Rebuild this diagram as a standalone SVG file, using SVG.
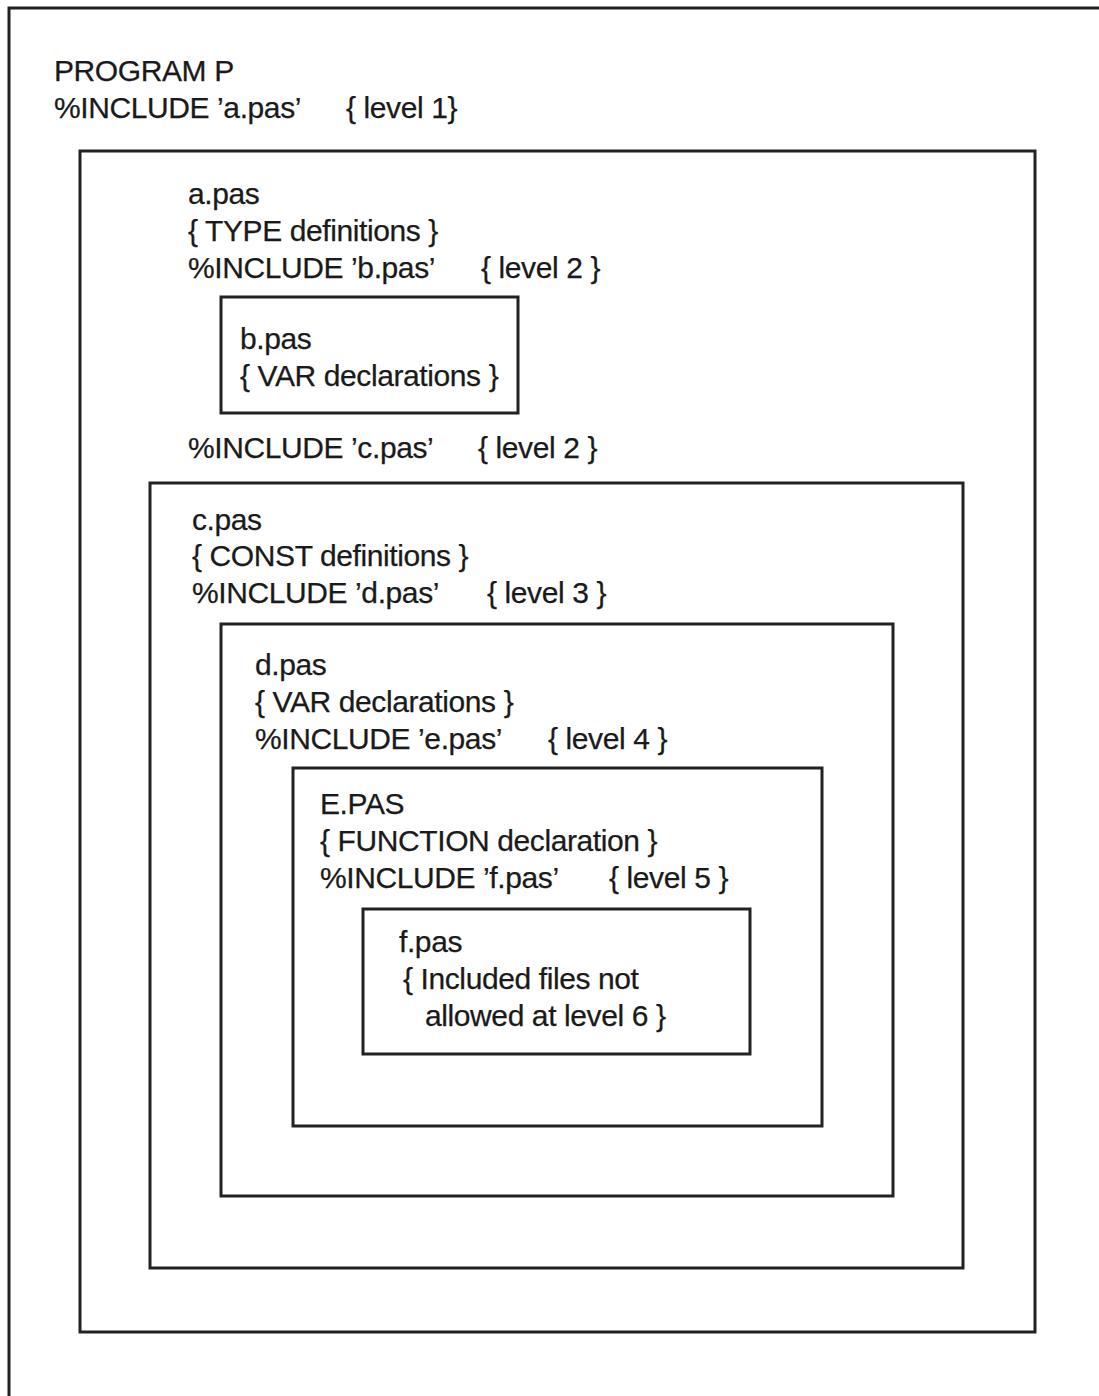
<svg xmlns="http://www.w3.org/2000/svg" width="1099" height="1396" viewBox="0 0 1099 1396">
  <style>
    .box { fill: none; stroke: #222; stroke-width: 3; }
    .t { font-family: "Liberation Sans", Arial, Helvetica, sans-serif; font-size: 30px; letter-spacing: -0.4px; fill: #1a1a1a; stroke: #1a1a1a; stroke-width: 0.25px; }
  </style>
  <rect x="0" y="0" width="1099" height="1396" fill="#fff"/>
  <g id="program-p">
    <path class="box" d="M 9 1400 V 8 H 1105"/>
    <text class="t" x="54" y="81">PROGRAM P</text>
    <text class="t" x="54" y="118">%INCLUDE ’a.pas’</text>
    <text class="t" x="346" y="118">{ level 1}</text>
  </g>
  <g id="a-pas">
    <rect class="box" x="80" y="151" width="955" height="1181"/>
    <text class="t" x="188" y="204">a.pas</text>
    <text class="t" x="188" y="241">{ TYPE definitions }</text>
    <text class="t" x="188" y="278">%INCLUDE ’b.pas’</text>
    <text class="t" x="481" y="278">{ level 2 }</text>
    <text class="t" x="188" y="458">%INCLUDE ’c.pas’</text>
    <text class="t" x="478" y="458">{ level 2 }</text>
  </g>
  <g id="b-pas">
    <rect class="box" x="221" y="297" width="297" height="116"/>
    <text class="t" x="240" y="349">b.pas</text>
    <text class="t" x="240" y="386">{ VAR declarations }</text>
  </g>
  <g id="c-pas">
    <rect class="box" x="150" y="483" width="813" height="785"/>
    <text class="t" x="192" y="530">c.pas</text>
    <text class="t" x="192" y="566">{ CONST definitions }</text>
    <text class="t" x="192" y="603">%INCLUDE ’d.pas’</text>
    <text class="t" x="487" y="603">{ level 3 }</text>
  </g>
  <g id="d-pas">
    <rect class="box" x="221" y="624" width="672" height="572"/>
    <text class="t" x="255" y="675">d.pas</text>
    <text class="t" x="255" y="712">{ VAR declarations }</text>
    <text class="t" x="255" y="749">%INCLUDE ’e.pas’</text>
    <text class="t" x="548" y="749">{ level 4 }</text>
  </g>
  <g id="e-pas">
    <rect class="box" x="293" y="768" width="529" height="358"/>
    <text class="t" x="320" y="814">E.PAS</text>
    <text class="t" x="320" y="851">{ FUNCTION declaration }</text>
    <text class="t" x="320" y="888">%INCLUDE ’f.pas’</text>
    <text class="t" x="609" y="888">{ level 5 }</text>
  </g>
  <g id="f-pas">
    <rect class="box" x="363" y="909" width="387" height="145"/>
    <text class="t" x="399" y="952">f.pas</text>
    <text class="t" x="403" y="989">{ Included files not</text>
    <text class="t" x="425" y="1026">allowed at level 6 }</text>
  </g>
  <g id="connectors"/>
</svg>
